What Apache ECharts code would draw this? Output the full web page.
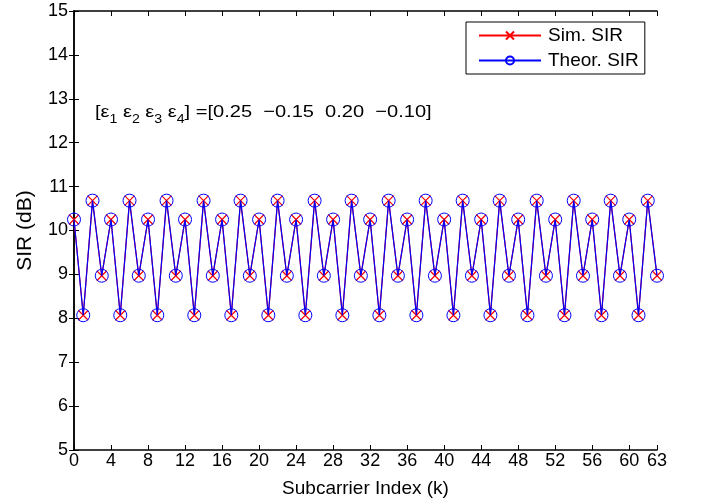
<!DOCTYPE html>
<html>
<head>
<meta charset="utf-8">
<script src="https://cdn.jsdelivr.net/npm/echarts@6/dist/echarts.min.js"></script>
<style>html,body{margin:0;padding:0;background:#fff}#c{width:701px;height:503px}</style>
</head>
<body>
<div id="c"></div>
<script>
var subcarriers = [];
for (var i = 0; i < 64; i++) subcarriers.push(i);
var simSIR = [
10.25, 8.07, 10.68, 8.97, 10.25, 8.07, 10.68, 8.97,
10.25, 8.07, 10.68, 8.97, 10.25, 8.07, 10.68, 8.97,
10.25, 8.07, 10.68, 8.97, 10.25, 8.07, 10.68, 8.97,
10.25, 8.07, 10.68, 8.97, 10.25, 8.07, 10.68, 8.97,
10.25, 8.07, 10.68, 8.97, 10.25, 8.07, 10.68, 8.97,
10.25, 8.07, 10.68, 8.97, 10.25, 8.07, 10.68, 8.97,
10.25, 8.07, 10.68, 8.97, 10.25, 8.07, 10.68, 8.97,
10.25, 8.07, 10.68, 8.97, 10.25, 8.07, 10.68, 8.97
];
var theorSIR = [
10.25, 8.07, 10.68, 8.97, 10.25, 8.07, 10.68, 8.97,
10.25, 8.07, 10.68, 8.97, 10.25, 8.07, 10.68, 8.97,
10.25, 8.07, 10.68, 8.97, 10.25, 8.07, 10.68, 8.97,
10.25, 8.07, 10.68, 8.97, 10.25, 8.07, 10.68, 8.97,
10.25, 8.07, 10.68, 8.97, 10.25, 8.07, 10.68, 8.97,
10.25, 8.07, 10.68, 8.97, 10.25, 8.07, 10.68, 8.97,
10.25, 8.07, 10.68, 8.97, 10.25, 8.07, 10.68, 8.97,
10.25, 8.07, 10.68, 8.97, 10.25, 8.07, 10.68, 8.97
];
var xTicks = [0, 4, 8, 12, 16, 20, 24, 28, 32, 36, 40, 44, 48, 52, 56, 60, 63];

var FONT = 'Liberation Sans, Arial, sans-serif';
var chart = echarts.init(document.getElementById('c'), null, {renderer: 'canvas'});
function pairs(arr) { return arr.map(function (v, i) { return [subcarriers[i], v]; }); }

var axisLine = {show: true, lineStyle: {color: '#000', width: 1.5}};
var tick = {show: true, inside: true, length: 5, lineStyle: {color: '#000', width: 1}};

chart.setOption({
  animation: false,
  backgroundColor: '#fff',
  grid: {left: 74, right: 44, top: 11, bottom: 53, containLabel: false},
  xAxis: [{
    type: 'value', min: 0, max: 63, position: 'bottom',
    name: 'Subcarrier Index (k)', nameLocation: 'middle', nameGap: 29,
    nameTextStyle: {fontFamily: FONT, fontSize: 19, color: '#000'},
    axisLine: axisLine,
    axisTick: Object.assign({customValues: xTicks}, tick),
    axisLabel: {customValues: xTicks, fontFamily: FONT, fontSize: 18, color: '#000', margin: 2},
    splitLine: {show: false}
  }, {
    type: 'value', min: 0, max: 63, position: 'top',
    axisLine: axisLine,
    axisTick: Object.assign({customValues: xTicks}, tick),
    axisLabel: {show: false, customValues: xTicks},
    splitLine: {show: false}
  }],
  yAxis: [{
    type: 'value', min: 5, max: 15, interval: 1, position: 'left',
    name: 'SIR (dB)', nameLocation: 'middle', nameGap: 38, nameRotate: 90,
    nameTextStyle: {fontFamily: FONT, fontSize: 21, color: '#000'},
    axisLine: axisLine, axisTick: tick,
    axisLabel: {fontFamily: FONT, fontSize: 18, color: '#000', margin: 6},
    splitLine: {show: false}
  }, {
    type: 'value', min: 5, max: 15, interval: 1, position: 'right',
    axisLine: axisLine, axisTick: tick,
    axisLabel: {show: false},
    splitLine: {show: false}
  }],
  legend: {
    orient: 'vertical', left: 466, top: 22,
    backgroundColor: '#fff', borderColor: '#000', borderWidth: 1,
    padding: [4, 6, 4, 12], itemGap: 6, itemWidth: 62, itemHeight: 10,
    textStyle: {fontFamily: FONT, fontSize: 19, color: '#000', padding: [0, 0, 0, 2]},
    data: ['Sim. SIR', 'Theor. SIR']
  },
  graphic: [{
    type: 'text', x: 95, y: 104, scaleX: 1.18,
    style: {
      rich: {
        n: {fontFamily: FONT, fontSize: 17, color: '#000', lineHeight: 20, verticalAlign: 'top'},
        s: {fontFamily: FONT, fontSize: 12, color: '#000', lineHeight: 14, verticalAlign: 'top', padding: [10, 0, 0, 0]}
      },
      text: '{n|[\u03b5}{s|1}{n| \u03b5}{s|2}{n| \u03b5}{s|3}{n| \u03b5}{s|4}{n|] =[0.25  \u22120.15  0.20  \u22120.10]}'
    }
  }],
  series: [{
    name: 'Sim. SIR', type: 'line', data: pairs(simSIR),
    symbol: 'path://M0,0L10,10M10,0L0,10', symbolSize: 10,
    lineStyle: {color: '#ff0000', width: 1.2},
    itemStyle: {color: 'rgba(0,0,0,0)', borderColor: '#ff0000', borderWidth: 1.2},
    emphasis: {disabled: true}, z: 2
  }, {
    name: 'Theor. SIR', type: 'line', data: pairs(theorSIR),
    symbol: 'circle', symbolSize: 13,
    lineStyle: {color: '#0000ff', width: 1.2},
    itemStyle: {color: 'rgba(0,0,0,0)', borderColor: '#0000ff', borderWidth: 1},
    emphasis: {disabled: true}, z: 3
  }]
});
</script>
</body>
</html>
